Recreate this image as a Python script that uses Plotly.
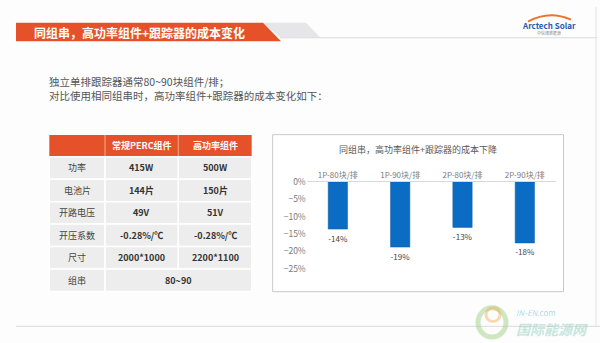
import plotly.graph_objects as go

# ---------------- data ----------------
categories = ["1P-80块/排", "1P-90块/排", "2P-80块/排", "2P-90块/排"]
cost_change = [-0.136, -0.188, -0.131, -0.176]
y_ticks = [0, -0.05, -0.10, -0.15, -0.20, -0.25]

table_header = ["", "常规PERC组件", "高功率组件"]
row_labels = ["功率", "电池片", "开路电压", "开压系数", "尺寸", "组串"]
perc_values = ["415W", "144片", "49V", "-0.28%/℃", "2000*1000", "80~90"]
high_values = ["500W", "150片", "51V", "-0.28%/℃", "2200*1100", None]

slide_title = "同组串，高功率组件+跟踪器的成本变化"
intro_lines = ["独立单排跟踪器通常80~90块组件/排；", "对比使用相同组串时，高功率组件+跟踪器的成本变化如下："]
chart_title = "同组串，高功率组件+跟踪器的成本下降"

W, H = 600, 343
FONT = "Noto Sans CJK SC, Noto Sans, sans-serif"


def X(x):
    return x / W


def Y(y):
    return 1 - y / H


shapes = []
ann = []


def rect(x0, y0, x1, y1, fill, line=None, lw=0, layer="below"):
    shapes.append(dict(type="rect", xref="paper", yref="paper", x0=X(x0), x1=X(x1), y0=Y(y1), y1=Y(y0),
                       fillcolor=fill, line=dict(color=line or fill, width=lw), layer=layer))


def line(x0, y0, x1, y1, color, lw=1, layer="below"):
    shapes.append(dict(type="line", xref="paper", yref="paper", x0=X(x0), x1=X(x1), y0=Y(y0), y1=Y(y1),
                       line=dict(color=color, width=lw), layer=layer))


def poly(pts, fill, layer="below"):
    p = "M " + " L ".join(f"{X(a):.5f},{Y(b):.5f}" for a, b in pts) + " Z"
    shapes.append(dict(type="path", xref="paper", yref="paper", path=p, fillcolor=fill,
                       line=dict(width=0), layer=layer))


def text(x, y, s, size=10, color="#333", bold=False, xanchor="center", align="center"):
    ann.append(dict(xref="paper", yref="paper", x=X(x), y=Y(y), text=f"<b>{s}</b>" if bold else s,
                    showarrow=False, xanchor=xanchor, yanchor="middle", align=align,
                    font=dict(family=FONT, size=size, color=color)))


# ---------------- slide decoration ----------------
poly([(263, 16), (306, 16), (320, 31), (280, 31)], "#e6e6e8")
poly([(16, 16), (263, 16), (281, 35), (16, 35)], "#e5522a")
line(280, 31.5, 597, 31.5, "#dadada", 1.2)
text(32, 26, slide_title, size=12, color="white", bold=True, xanchor="left")

# logo
shapes.append(dict(type="path", xref="paper", yref="paper",
                   path=f"M {X(528):.5f},{Y(15):.5f} Q {X(549):.5f},{Y(3):.5f} {X(571):.5f},{Y(13):.5f}",
                   line=dict(color="#e8772e", width=2), layer="below"))
text(549, 19, "Arctech Solar", size=8, color="#1f5aa6", bold=True)
text(549, 26.5, "中信博新能源", size=4, color="#888")

# slide frame lines
line(596, 0, 596, 327, "#e2e2e2", 1)
line(16, 327, 600, 327, "#e2e2e2", 1.2)

# intro text
text(47, 76.5, intro_lines[0], size=10.5, color="#555", xanchor="left", align="left")
text(47, 90.5, intro_lines[1], size=10.5, color="#555", xanchor="left", align="left")

# ---------------- table ----------------
tx0, tx1, tx2, tx3 = 49.3, 105, 178.3, 251.7
hy0, hy1 = 131, 153.3
rh = 23
rect(tx0, hy0, tx3, hy1, "#e5522a")
line(tx1, hy0, tx1, hy1, "#f2a890", 1)
line(tx2, hy0, tx2, hy1, "#f2a890", 1)
col_c = [(tx0 + tx1) / 2, (tx1 + tx2) / 2, (tx2 + tx3) / 2]
for j, h in enumerate(table_header):
    if h:
        text(col_c[j], (hy0 + hy1) / 2, h, size=9, color="white", bold=True)
for i, lab in enumerate(row_labels):
    y0 = hy1 + i * rh
    y1 = y0 + rh
    yc = (y0 + y1) / 2
    rect(tx0, y0, tx1, y1, "#ededed", "white", 1.5)
    text(col_c[0], yc, lab, size=9, color="#444")
    if high_values[i] is None:
        rect(tx1, y0, tx3, y1, "#ededed", "white", 1.5)
        text((tx1 + tx3) / 2, yc, perc_values[i], size=9, color="#333", bold=True)
    else:
        rect(tx1, y0, tx2, y1, "#ededed", "white", 1.5)
        rect(tx2, y0, tx3, y1, "#ededed", "white", 1.5)
        text(col_c[1], yc, perc_values[i], size=9, color="#333", bold=True)
        text(col_c[2], yc, high_values[i], size=9, color="#333", bold=True)

# ---------------- chart box ----------------
rect(272.7, 130.7, 563.5, 291.5, "white", "#c9c9c9", 1)
text(418, 146, chart_title, size=9, color="#595959")

# watermark
shapes.append(dict(type="circle", xref="paper", yref="paper", x0=X(478), x1=X(506), y0=Y(338), y1=Y(308),
                   line=dict(color="rgba(150,205,120,0.45)", width=5), layer="below"))
shapes.append(dict(type="circle", xref="paper", yref="paper", x0=X(486), x1=X(500), y0=Y(322), y1=Y(308),
                   line=dict(color="rgba(245,170,80,0.45)", width=3), layer="below"))
text(536, 313, "<i>IN-EN</i>.com", size=8, color="rgba(120,190,220,0.6)")
text(552, 330, "<i><b>国际能源网</b></i>", size=14, color="rgba(150,210,190,0.55)")

# ---------------- bar chart ----------------
fig = go.Figure()
fig.add_trace(go.Bar(
    x=categories, y=cost_change, width=0.31,
    marker=dict(color="#0b6cc3", line=dict(color="#0a5fae", width=0.5)),
    texttemplate="%{y:.0%}", textposition="outside", cliponaxis=False,
    textfont=dict(family=FONT, size=8.5, color="#444"),
))

fig.update_layout(
    width=W, height=H, autosize=False,
    margin=dict(l=0, r=0, t=0, b=0),
    paper_bgcolor="#fdfdfe", plot_bgcolor="rgba(0,0,0,0)",
    showlegend=False, shapes=shapes, annotations=ann,
    font=dict(family=FONT),
    xaxis=dict(domain=[X(306.7), X(556)], side="top", showline=True, linecolor="#d9d9d9", linewidth=1,
               ticks="", showgrid=False, tickfont=dict(family=FONT, size=8, color="#7a7a7a"), fixedrange=True),
    yaxis=dict(domain=[Y(271.3), Y(179.3)], range=[-0.26, 0], tickvals=y_ticks, tickformat=".0%",
               showgrid=False, zeroline=False, showline=False, ticks="",
               tickfont=dict(family=FONT, size=8.5, color="#7a7a7a"), fixedrange=True),
)

fig.write_html("out.html")
